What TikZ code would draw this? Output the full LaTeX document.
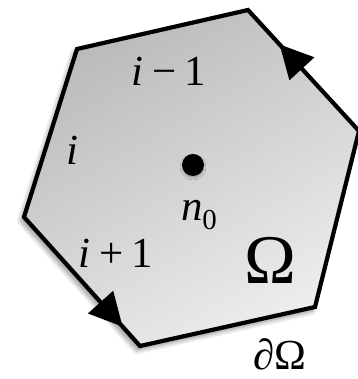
\documentclass[tikz,border=0pt]{standalone}
\usepackage{fontspec}
\setmainfont{Liberation Serif}
\usetikzlibrary{calc,shadows.blur}
\begin{document}
\begin{tikzpicture}[x=1bp,y=1bp,
  lbl/.style={inner sep=0pt, anchor=base, font=\fontsize{43}{50}\selectfont},
  edgeline/.style={line width=4.2bp, line join=miter},
  softshadow/.style={blur shadow={shadow xshift=-3bp,shadow yshift=-4bp,shadow blur radius=5bp,shadow blur steps=12,shadow opacity=45}}
]
\useasboundingbox (0,0) rectangle (358,379);
\clip (0,0) rectangle (358,379);
\coordinate (TL) at (77,330);
\coordinate (T) at (248,369);
\coordinate (R) at (359,248);
\coordinate (BR) at (315,72);
\coordinate (B) at (140,33);
\coordinate (L) at (24,162);
\path[softshadow, fill=white] (TL)--(T)--(R)--(BR)--(B)--(L)--cycle;
\shade[left color=black!27, right color=black!7, shading angle=30] (TL)--(T)--(R)--(BR)--(B)--(L)--cycle;
\draw[edgeline] (TL)--(T)--(R)--(BR)--(B)--(L)--cycle;
% arrowheads
\coordinate (t1) at ($(R)!0.715!(T)$);
\coordinate (b1) at ($(t1)!33bp!(R)$);
\fill[black] (t1) -- ($(b1)!17bp!90:(t1)$) -- ($(b1)!17bp!-90:(t1)$) -- cycle;
\coordinate (t2) at ($(L)!0.85!(B)$);
\coordinate (b2) at ($(t2)!33bp!(L)$);
\fill[black] (t2) -- ($(b2)!17bp!90:(t2)$) -- ($(b2)!17bp!-90:(t2)$) -- cycle;
\node[circle, fill=black, inner sep=0pt, minimum size=22bp, blur shadow={shadow xshift=0bp,shadow yshift=-2bp,shadow blur radius=2bp,shadow opacity=25}] (n) at (193,214) {};
\node[lbl] (lm) at (169,294) {\textit{i}\hspace{0.2em}−\hspace{0.2em}1};
\node[lbl] (li) at (72,215) {\textit{i}};
\node[lbl] (lp) at (116,112) {\textit{i}\hspace{0.2em}+\hspace{0.2em}1};
\node[lbl, font=\fontsize{70}{74}\selectfont] (om) at (270,96) {Ω};
\node[lbl] (bd) at (280,10) {∂Ω};
\node[lbl] (n0) at (199,159) {\textit{n}\raisebox{-0.22em}{\fontsize{29}{32}\selectfont 0}};
\end{tikzpicture}
\end{document}
